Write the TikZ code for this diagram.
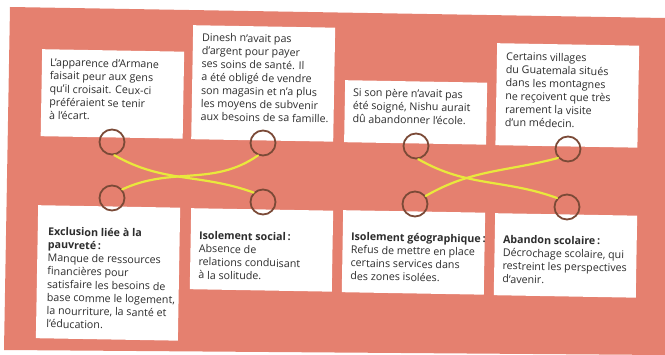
\documentclass[tikz,border=0pt]{standalone}
\usepackage{fontspec}
\setmainfont{Open Sans}
\usepackage{tikz}
\usetikzlibrary{positioning}
\definecolor{saumon}{HTML}{E5806F}
\definecolor{brun}{HTML}{7B4A37}
\definecolor{jaune}{HTML}{E9E83C}
\definecolor{encre}{HTML}{2D2D2D}
\tikzstyle{card}=[rectangle, fill=white, anchor=north west, minimum width=142pt, inner sep=0pt, rotate=-1]
\tikzstyle{cardtext}=[align=left, inner sep=0pt, text=encre, rotate=-1, font=\fontsize{10.7}{13.2}\selectfont]
\tikzstyle{ring}=[circle, draw=brun, line width=1.8pt, minimum size=25pt, inner sep=0pt]
\tikzstyle{wire}=[draw=jaune, line width=2.2pt, line cap=round]

\begin{document}
\begin{tikzpicture}[x=1pt, y=1pt]
  \useasboundingbox (0,0) rectangle (665,-355);
  \fill[saumon] (10,-7) -- (665,-18) -- (665,-355) -- (4,-350) -- cycle;

  \node[card, minimum height=87pt] (ex1) at (42,-49) {};
  \node[card, minimum height=114pt] (ex2) at (193,-25) {};
  \node[card, minimum height=62pt] (ex3) at (345,-80) {};
  \node[card, minimum height=102pt] (ex4) at (497,-43) {};
  \node[card, minimum height=133pt] (def1) at (38,-205) {};
  \node[card, minimum height=81pt] (def2) at (191,-208) {};
  \node[card, minimum height=82pt] (def3) at (343,-210) {};
  \node[card, minimum height=82pt] (def4) at (495,-213) {};

  \node[cardtext, below right=9pt and 8pt of ex1.north west] (ex1t)
    {L'apparence d'Armane\\faisait peur aux gens\\qu'il croisait. Ceux-ci\\préféraient se tenir\\à l'écart.};
  \node[cardtext, below right=8pt and 9pt of ex2.north west] (ex2t)
    {Dinesh n'avait pas\\d'argent pour payer\\ses soins de santé. Il\\a été obligé de vendre\\son magasin et n'a plus\\les moyens de subvenir\\aux besoins de sa famille.};
  \node[cardtext, below right=8pt and 8pt of ex3.north west] (ex3t)
    {Si son père n'avait pas\\été soigné, Nishu aurait\\dû abandonner l'école.};
  \node[cardtext, below right=9pt and 9pt of ex4.north west] (ex4t)
    {Certains villages\\du Guatemala situés\\dans les montagnes\\ne reçoivent que très\\rarement la visite\\d'un médecin.};
  \node[cardtext, below right=22pt and 10pt of def1.north west] (def1t)
    {\textbf{Exclusion liée à la}\\\textbf{pauvreté\,:}\\Manque de ressources\\financières pour\\satisfaire les besoins de\\base comme le logement,\\la nourriture, la santé et\\l'éducation.};
  \node[cardtext, below right=23pt and 8pt of def2.north west] (def2t)
    {\textbf{Isolement social\,:}\\Absence de\\relations conduisant\\à la solitude.};
  \node[cardtext, below right=22pt and 8pt of def3.north west] (def3t)
    {\textbf{Isolement géographique\,:}\\Refus de mettre en place\\certains services dans\\des zones isolées.};
  \node[cardtext, below right=22pt and 8pt of def4.north west] (def4t)
    {\textbf{Abandon scolaire\,:}\\Décrochage scolaire, qui\\restreint les perspectives\\d'avenir.};

  \node[ring] (r1) at (112,-142) {};
  \node[ring] (r2) at (263,-143) {};
  \node[ring] (r3) at (416,-146) {};
  \node[ring] (r4) at (568,-149) {};
  \node[ring] (r5) at (112,-198) {};
  \node[ring] (r6) at (263,-202) {};
  \node[ring] (r7) at (415,-204) {};
  \node[ring] (r8) at (567,-207) {};

  \path[wire] (r1.-80) to[out=-30, in=160] (r6.135);
  \path[wire] (r5.40) to[out=25, in=-145] (r2.-112);
  \path[wire] (r3.-80) to[out=-30, in=160] (r8.138);
  \path[wire] (r7.37) to[out=30, in=-165] (r4.-138);
\end{tikzpicture}
\end{document}
